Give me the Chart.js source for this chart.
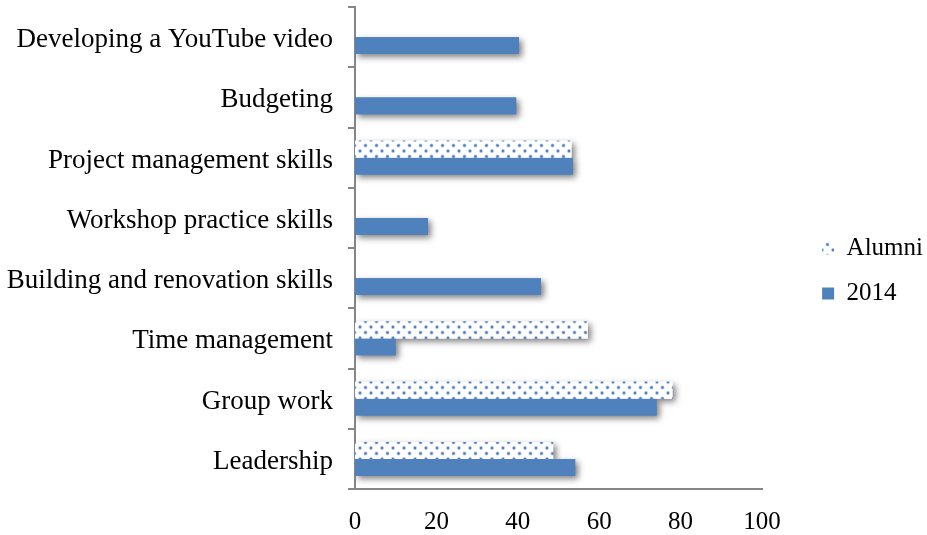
<!DOCTYPE html>
<html>
<head>
<meta charset="utf-8">
<script src="https://cdn.jsdelivr.net/npm/chart.js@4"></script>
<style>
  html, body { margin: 0; padding: 0; background: #ffffff; }
  #wrap { width: 927px; height: 535px; position: relative; }
</style>
</head>
<body>
<div id="wrap"><canvas id="c" width="927" height="535"></canvas></div>
<script>
const categories = [
  'Developing a YouTube video',
  'Budgeting',
  'Project management skills',
  'Workshop practice skills',
  'Building and renovation skills',
  'Time management',
  'Group work',
  'Leadership'
];
const alumniValues = [null, null, 53.2, null, null, 57.2, 78, 48.7];
const values2014 = [40.3, 39.6, 53.5, 17.9, 45.7, 10, 74.1, 54.1];
const xTicks = [0, 20, 40, 60, 80, 100];

function makeDotPattern() {
  const t = document.createElement('canvas');
  t.width = 11; t.height = 11;
  const g = t.getContext('2d');
  g.fillStyle = '#ffffff';
  g.fillRect(0, 0, 11, 11);
  const dots = [[2.5, 2.5], [8, 8]];
  dots.forEach(([x, y]) => {
    g.fillStyle = 'rgba(110,150,210,0.55)';
    g.beginPath(); g.arc(x, y, 1.9, 0, Math.PI * 2); g.fill();
    g.fillStyle = '#4f81bd';
    g.beginPath(); g.arc(x, y, 1.2, 0, Math.PI * 2); g.fill();
  });
  return g.createPattern(t, 'repeat');
}

const shadowPlugin = {
  id: 'barShadow',
  beforeDatasetsDraw(chart) {
    const ctx = chart.ctx;
    ctx.save();
    ctx.beginPath();
    ctx.rect(chart.chartArea.left, 0, chart.width, chart.chartArea.bottom);
    ctx.clip();
    ctx.shadowColor = 'rgba(0,0,0,0.5)';
    ctx.shadowBlur = 6;
    ctx.shadowOffsetX = 3;
    ctx.shadowOffsetY = 3;
    chart.getSortedVisibleDatasetMetas().forEach(meta => {
      meta.data.forEach(el => {
        if (el && !el.skip && isFinite(el.x)) el.draw(ctx, chart.chartArea);
      });
    });
    ctx.restore();
  }
};

// keep the legend block hugging the right edge of the canvas
const legendPlacer = {
  id: 'legendPlacer',
  afterLayout(chart) {
    const lg = chart.legend;
    if (!lg || !lg.columnSizes || !lg.columnSizes.length) return;
    const pad = lg.options.labels.padding;
    const w = lg.right - lg.left;
    const newLeft = chart.width - 4 - lg.columnSizes[0].width - pad;
    lg.left = newLeft;
    lg.right = newLeft + w;
  }
};

const dotPattern = makeDotPattern();
const axisColor = '#868686';
const family = '"Liberation Serif", "Times New Roman", serif';
const catFont = { family: family, size: 27 };
const tickFont = { family: family, size: 25 };
const legendFont = { family: family, size: 25 };

new Chart(document.getElementById('c'), {
  type: 'bar',
  data: {
    labels: categories,
    datasets: [
      { label: 'Alumni', data: alumniValues, backgroundColor: dotPattern, borderWidth: 0 },
      { label: '2014', data: values2014, backgroundColor: '#4f81bd', borderWidth: 0 }
    ]
  },
  options: {
    indexAxis: 'y',
    responsive: false,
    animation: false,
    events: [],
    categoryPercentage: 0.56,
    barPercentage: 1.0,
    layout: { padding: { top: 7, left: 0, right: 0, bottom: 0 } },
    plugins: {
      tooltip: { enabled: false },
      legend: {
        position: 'right',
        align: 'center',
        labels: {
          font: legendFont,
          color: '#000000',
          boxWidth: 12,
          boxHeight: 12,
          padding: 20
        }
      }
    },
    scales: {
      x: {
        min: 0,
        max: 100,
        afterBuildTicks: s => { s.ticks = xTicks.map(v => ({ value: v })); },
        afterFit: s => { s.height = 46; s.paddingRight = 165; },
        grid: { display: false, drawTicks: false },
        border: { display: true, color: axisColor, width: 2 },
        ticks: { font: tickFont, color: '#000000', padding: 18, maxRotation: 0 }
      },
      y: {
        afterFit: s => { s.width = 355; s.paddingTop = 0; s.paddingBottom = 0; },
        grid: {
          display: true,
          offset: true,
          drawOnChartArea: false,
          drawTicks: true,
          tickLength: 7,
          color: axisColor,
          lineWidth: 2
        },
        border: { display: true, color: axisColor, width: 2 },
        ticks: { font: catFont, color: '#000000', padding: 15, labelOffset: 3, autoSkip: false }
      }
    }
  },
  plugins: [shadowPlugin, legendPlacer]
});
</script>
</body>
</html>
